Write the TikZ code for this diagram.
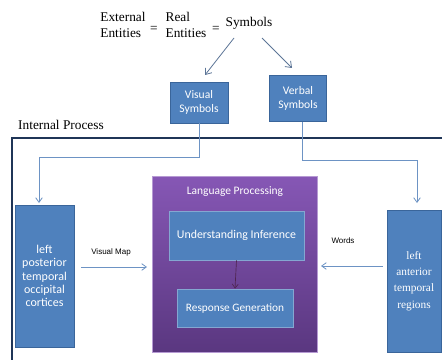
\documentclass[tikz,border=0pt]{standalone}
\usepackage{fontspec}
\setmainfont{Liberation Serif}
\newfontfamily\calfont{Carlito}
\newfontfamily\arsfont{Liberation Sans}
\usetikzlibrary{arrows.meta,shadings}
\definecolor{boxblue}{HTML}{4F81BD}
\definecolor{boxedge}{HTML}{3A659A}
\definecolor{linkblue}{HTML}{6D93C4}
\definecolor{slate}{HTML}{5C7597}
\definecolor{navy}{HTML}{1F3557}
\definecolor{ptop}{HTML}{8657B5}
\definecolor{pbot}{HTML}{5A3780}
\tikzset{
  bluebox/.style={draw=boxedge,fill=boxblue,line width=0.6pt,text=white,align=center,inner sep=1pt},
  link/.style={draw=linkblue,line width=0.6pt,-{Straight Barb[length=3.5pt,width=5pt]}},
  toplink/.style={draw=slate,line width=0.6pt,-{Straight Barb[length=4pt,width=6pt]}},
  lbl/.style={font=\arsfont\fontsize{6}{7}\selectfont,inner sep=0pt},
  toptxt/.style={font=\fontsize{10}{12}\selectfont,align=left,inner sep=0pt}
}
\begin{document}
\begin{tikzpicture}[x=0.75pt,y=-0.75pt]
\useasboundingbox (0,0) rectangle (442,360);
\clip (0,0) rectangle (442,360);
\fill[white] (0,0) rectangle (442,360);
% outer frame
\draw[navy,line width=1.6pt] (12,138) rectangle (450,370);
% top texts
\node[toptxt] (ext) at (123,25) {External\\Entities};
\node[toptxt] (eq1) at (154,29) {=};
\node[toptxt] (real) at (186,25) {Real\\Entities};
\node[toptxt] (eq2) at (216,29) {=};
\node[toptxt] (sym) at (249,23) {Symbols};
\node[toptxt,font=\fontsize{10}{12}\selectfont] (ip) at (61,125) {Internal Process};
% symbol boxes
\node[bluebox,minimum width=43.5pt,minimum height=30.75pt,font=\calfont\fontsize{8.7}{11}\selectfont] (vis) at (199,102.5) {Visual\\Symbols};
\node[bluebox,minimum width=43pt,minimum height=35pt,font=\calfont\fontsize{8.7}{11}\selectfont] (verb) at (298,98.5) {Verbal\\Symbols};
\coordinate (s1) at (234,38);
\coordinate (s2) at (262,38);
\coordinate (v1) at (205,75);
\coordinate (v2) at (292,68);
\draw[toplink] (s1) -- (v1);
\draw[toplink] (s2) -- (v2);
% side boxes
\node[bluebox,minimum width=44.25pt,minimum height=106.5pt,font=\calfont\fontsize{9}{10}\selectfont] (lp) at (44.5,276) {left\\posterior\\temporal\\occipital\\cortices};
\node[bluebox,minimum width=40.5pt,minimum height=106.5pt,font=\fontsize{8.5}{12.3}\selectfont] (la) at (414,281) {left\\anterior\\temporal\\regions};
% purple block
\shade[top color=ptop,bottom color=pbot,draw=ptop!60!white,line width=0.4pt] (152,176) rectangle (317,352);
\node (lang) [font=\calfont\fontsize{8.6}{10}\selectfont,text=white,inner sep=0pt] at (235,192) {Language Processing};
\node[bluebox,draw=boxblue!70!white,minimum width=101.25pt,minimum height=36.75pt,font=\calfont\fontsize{8.9}{10}\selectfont] (ui) at (236.5,235.5) {Understanding Inference};
\node[bluebox,draw=boxblue!70!white,minimum width=87pt,minimum height=28.5pt,font=\calfont\fontsize{8.5}{10}\selectfont] (rg) at (235,308) {Response Generation};
\draw[draw=navy!70!purple,line width=0.5pt,-{Straight Barb[length=3pt,width=4.5pt]}] (ui.south) -- (rg.north);
% connectors from symbols
\coordinate (c1) at (199,157);
\coordinate (c2) at (39,157);
\coordinate (c3) at (302,160);
\coordinate (c4) at (417,160);
\draw[link] (vis.south) |- (c2) -- (39,203);
\draw[link] (verb.south -| c3) |- (c4) -- (417,203);
% labels and side arrows
\node[lbl] (vm) at (111,252) {Visual Map};
\node[lbl] (wd) at (343,241) {Words};
\coordinate (a1) at (81,267);
\coordinate (a2) at (147,267);
\coordinate (b1) at (383,266);
\coordinate (b2) at (321,266);
\draw[link] (a1) -- (a2);
\draw[link] (b1) -- (b2);
\end{tikzpicture}
\end{document}
